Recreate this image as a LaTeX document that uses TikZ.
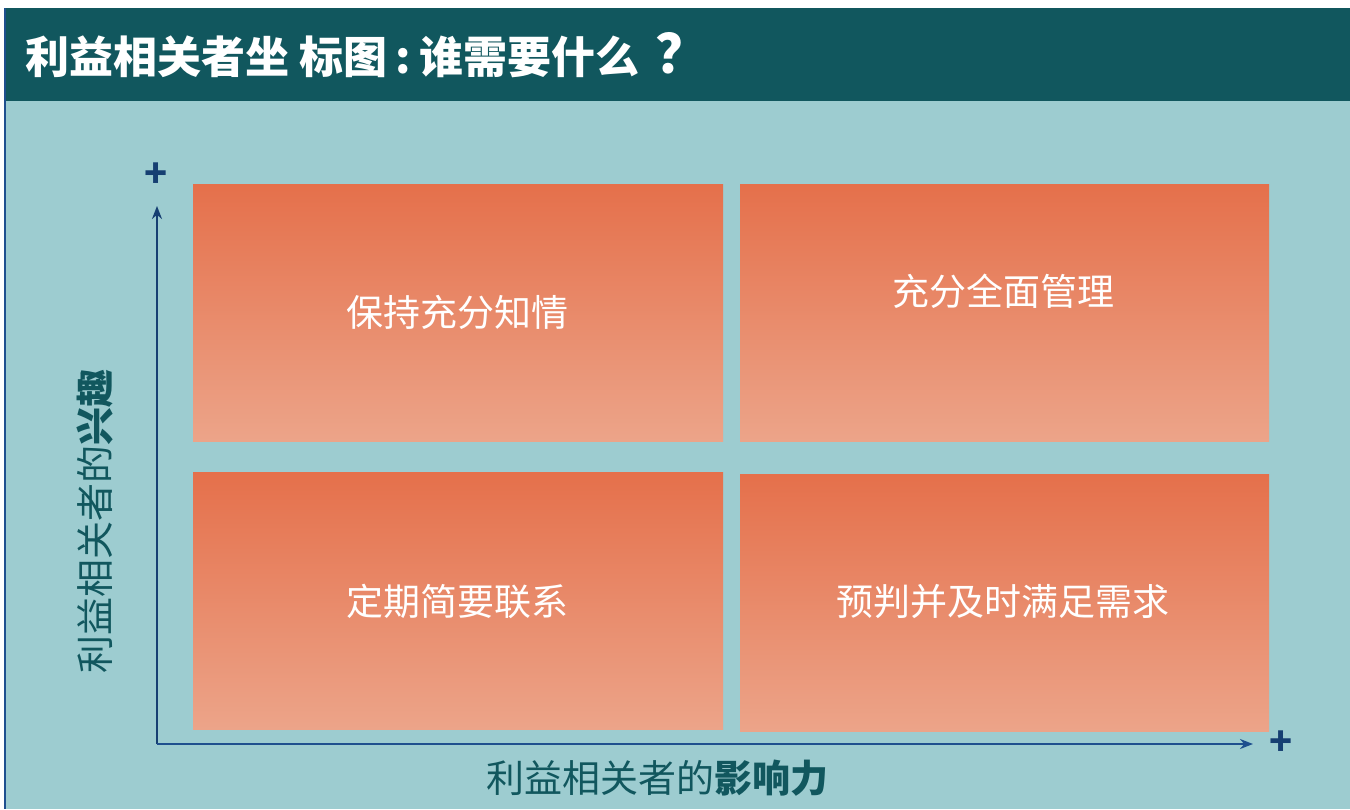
\documentclass[tikz,border=0pt]{standalone}
\usepackage{fontspec}
\newfontfamily\cjk{Noto Sans CJK SC}
\usetikzlibrary{arrows.meta}
\definecolor{barc}{HTML}{11575E}
\definecolor{panelc}{HTML}{9DCCD0}
\definecolor{axisc}{HTML}{163F72}
\definecolor{edgec}{HTML}{1E4F8E}
\definecolor{boxtop}{HTML}{E5704B}
\definecolor{boxbot}{HTML}{ECA489}
\tikzset{
  quad/.style={top color=boxtop, bottom color=boxbot, draw=none},
  quadlabel/.style={text=white, font=\cjk\fontsize{37}{40}\selectfont, inner sep=0pt},
  axislabel/.style={text=barc, font=\cjk\fontsize{38}{40}\selectfont, inner sep=0pt},
  axisline/.style={draw=axisc, line width=2.2pt, -{Stealth[length=13pt,width=10pt]}},
  plus/.style={text=axisc, font=\cjk\bfseries\fontsize{38}{38}\selectfont, inner sep=0pt}
}
\begin{document}
\begin{tikzpicture}[x=1pt,y=-1pt]
\useasboundingbox (0,0) rectangle (1350,809);
\fill[white] (0,0) rectangle (1350,809);
\fill[panelc] (5,101) rectangle (1350,809);
\fill[barc] (5,8) rectangle (1350,101);
\draw[edgec, line width=2pt] (5,8) -- (5,809);
\node[anchor=west, text=white, font=\cjk\bfseries\fontsize{44}{48}\selectfont, inner sep=0pt] (title) at (25,55) {利益相关者坐 标图\hspace{8pt}:\hspace{9pt}谁需要什么\hspace{16pt}{\fontsize{54}{54}\selectfont ？}};
% quadrants
\shade[quad] (193,184) rectangle (723,441);
\shade[quad] (740,184) rectangle (1269,441);
\shade[quad] (193,472) rectangle (723,729);
\shade[quad] (740,474) rectangle (1269,731);
\node[quadlabel] (q1) at (457,312) {保持充分知情};
\node[quadlabel] (q2) at (1003,291) {充分全面管理};
\node[quadlabel] (q3) at (457,601) {定期简要联系};
\node[quadlabel] (q4) at (1003,602) {预判并及时满足需求};
% axes
\coordinate (o) at (157,744);
\coordinate (ytip) at (157,206);
\coordinate (xtip) at (1253,744);
\draw[axisline] (o) -- (ytip);
\draw[axisline, draw=edgec] (o) -- (xtip);
\node[plus] (py) at (156,175) {+};
\node[plus] (px) at (1281,743) {+};
\node[axislabel, rotate=90] (ylab) at (95,521) {利益相关者的{\bfseries 兴趣}};
\node[axislabel] (xlab) at (657,778) {利益相关者的{\bfseries 影响力}};
\end{tikzpicture}
\end{document}
